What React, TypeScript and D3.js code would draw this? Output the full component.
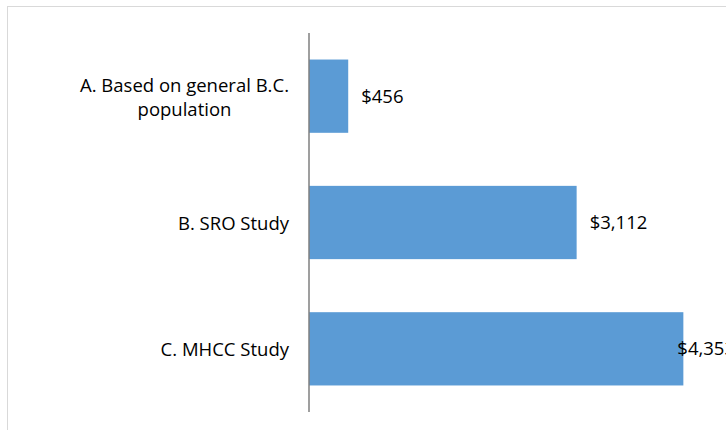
import React from 'react';
import * as d3 from 'd3';

const categories = ['A. Based on general B.C. population', 'B. SRO Study', 'C. MHCC Study'];
const categoryLines = [['A. Based on general B.C.', 'population'], ['B. SRO Study'], ['C. MHCC Study']];
const values = [456, 3112, 4353];

const W = 726;
const H = 430;
const FONT = '"Open Sans", Lato, sans-serif';

function measure(text: string, size: number) {
    const ctx = document.createElement('canvas').getContext('2d');
    if (!ctx) return text.length * size * 0.5;
    ctx.font = `${size}px ${FONT}`;
    return ctx.measureText(text).width;
}

class App extends React.Component {

    _chartComponents() {
        const x = d3.scaleLinear().domain([0, 5000]).range([309, 739]);
        const y = d3.scaleBand<string>().domain(categories).range([33, 412])
            .paddingInner(0.42).paddingOuter(0.21);
        const fmt = d3.format('$,');
        return { x, y, fmt };
    }

    render() {
        const { x, y, fmt } = this._chartComponents();
        const fs = 18.5;
        const lineH = 24;

        return (
            <svg width={W} height={H} style={{ position: 'absolute', left: 0, top: 0, background: '#fff' }}
                 fontFamily={FONT}>
                <rect x={7.5} y={6.5} width={W + 20} height={H + 20} fill='#fff' stroke='#d9d9d9' />
                {categories.map((c, i) => {
                    const yy = y(c) as number;
                    const bw = y.bandwidth();
                    const end = x(values[i]);
                    const overflow = end + 14 + 50 > W;
                    return (
                        <g key={c}>
                            <rect x={x(0)} y={yy} width={end - x(0)} height={bw} fill='#5b9bd5' />
                            <text x={overflow ? end - 6 : end + 13} y={yy + bw / 2} dy='0.35em'
                                  fontSize={fs} fill='#000'>{fmt(values[i])}</text>
                        </g>
                    );
                })}
                {categories.map((c, i) => {
                    const lines = categoryLines[i];
                    const cy = (y(c) as number) + y.bandwidth() / 2 + 1;
                    const maxW = d3.max(lines, l => measure(l, fs)) || 0;
                    const cx = 289 - maxW / 2;
                    const top = cy - ((lines.length - 1) * lineH) / 2;
                    return lines.map((l, j) => (
                        <text key={c + j} x={cx} y={top + j * lineH} dy='0.35em'
                              textAnchor='middle' fontSize={fs} fill='#000'>{l}</text>
                    ));
                })}
                <line x1={x(0)} x2={x(0)} y1={33} y2={412} stroke='#7f7f7f' strokeWidth={1.5} />
            </svg>
        );
    }
}

export default App;
